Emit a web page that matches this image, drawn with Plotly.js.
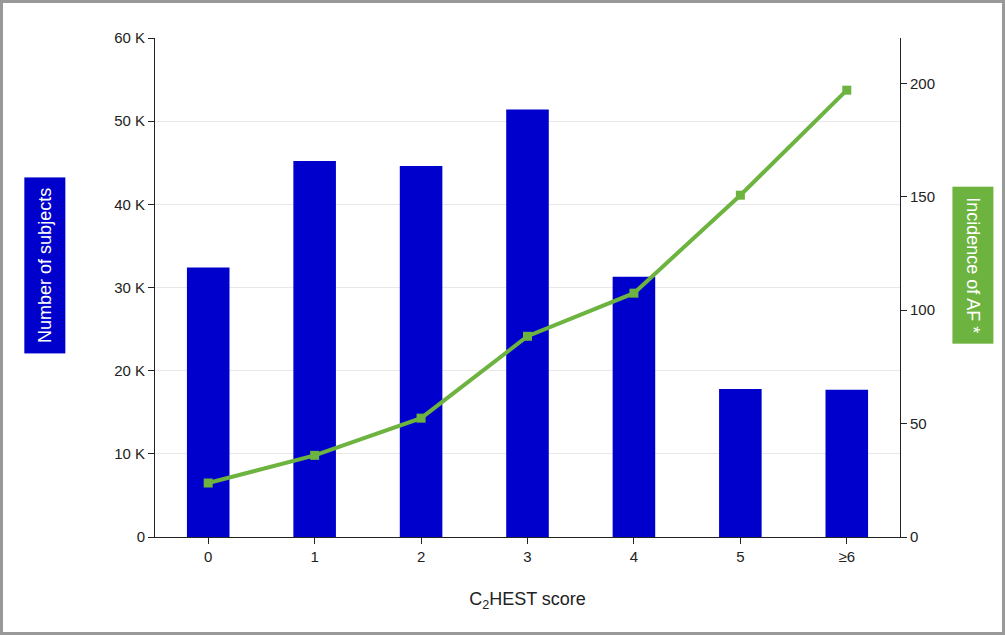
<!DOCTYPE html>
<html><head><script src="https://cdn.plot.ly/plotly-3.0.1.min.js"></script>
<style>body{margin:0}#c{width:1005px;height:635px;box-sizing:border-box;border:3px solid #999}</style></head>
<body><div id="c"></div><script>
const categories=['0','1','2','3','4','5','≥6'];
const subjects=[32400,45200,44600,51400,31300,17800,17700];
const incidence=[23.8,36,52.4,88.5,107.5,150.7,197];
const f={family:'Liberation Sans, Arial',size:15,color:'#222'};
Plotly.newPlot('c',[
{type:'bar',x:categories,y:subjects,marker:{color:'#0000cc'},width:0.4,hoverinfo:'skip'},
{type:'scatter',x:categories,y:incidence,yaxis:'y2',mode:'lines+markers',line:{color:'#6db33f',width:4},marker:{symbol:'square',size:9,color:'#6db33f'}}
],{width:999,height:629,showlegend:false,font:f,
margin:{l:152,r:102,t:35,b:95},
plot_bgcolor:'#fff',paper_bgcolor:'#fff',
xaxis:{type:'category',showline:true,linecolor:'#222',ticks:'outside',ticklen:6,tickcolor:'#222',
 title:{text:'C<sub>2</sub>HEST score',font:{size:18},standoff:28}},
yaxis:{range:[0,60000],tickvals:[0,10000,20000,30000,40000,50000,60000],ticktext:['0','10 K','20 K','30 K','40 K','50 K','60 K'],
 showline:true,linecolor:'#222',ticks:'outside',ticklen:6,tickcolor:'#222',gridcolor:'#e8e8e8',zeroline:false},
yaxis2:{overlaying:'y',side:'right',range:[0,220],tickvals:[0,50,100,150,200],showline:true,linecolor:'#222',ticks:'outside',ticklen:6,tickcolor:'#222',showgrid:false,zeroline:false},
annotations:[
{xref:'paper',yref:'paper',x:-0.176,y:0.545,text:'Number of subjects',textangle:-90,showarrow:false,bgcolor:'#0000cc',font:{color:'#fff',size:18},borderpad:10},
{xref:'paper',yref:'paper',x:1.126,y:0.545,text:'Incidence of AF *',textangle:90,showarrow:false,bgcolor:'#6db33f',font:{color:'#fff',size:18},borderpad:10}
]},{displayModeBar:false});
</script></body></html>
